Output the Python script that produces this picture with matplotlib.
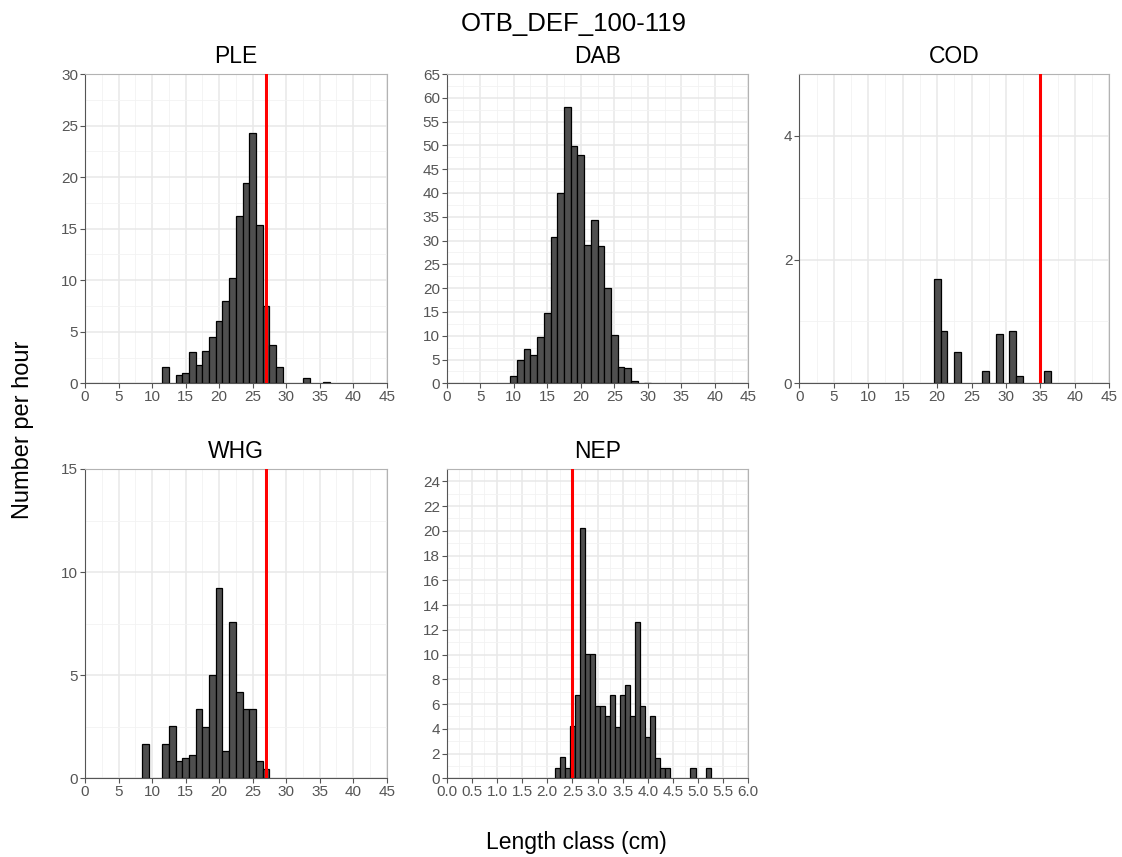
import matplotlib
matplotlib.use('Agg')
import matplotlib.pyplot as plt
from matplotlib.ticker import MultipleLocator, FormatStrFormatter

plt.rcParams['font.family'] = ['Liberation Sans', 'DejaVu Sans']

# length classes (cm) and numbers per hour
ple_len = [12, 14, 15, 16, 17, 18, 19, 20, 21, 22, 23, 24, 25, 26, 27, 28, 29, 33, 36]
ple_n = [1.6, 0.8, 1.0, 3.0, 1.8, 3.1, 4.5, 6.0, 8.0, 10.2, 16.2, 19.4, 24.3, 15.4, 7.5, 3.7, 1.6, 0.5, 0.1]

dab_len = [10, 11, 12, 13, 14, 15, 16, 17, 18, 19, 20, 21, 22, 23, 24, 25, 26, 27, 28, 30]
dab_n = [1.5, 5.0, 7.2, 6.0, 9.8, 14.7, 30.7, 40.0, 58.1, 49.9, 48.0, 29.1, 34.4, 28.8, 20.1, 10.2, 3.4, 3.2, 0.5, 0.1]

cod_len = [20, 21, 23, 27, 29, 31, 32, 36]
cod_n = [1.68, 0.84, 0.51, 0.2, 0.8, 0.84, 0.12, 0.2]

whg_len = [9, 12, 13, 14, 15, 16, 17, 18, 19, 20, 21, 22, 23, 24, 25, 26, 27]
whg_n = [1.65, 1.65, 2.55, 0.84, 0.97, 1.13, 3.35, 2.5, 5.0, 9.25, 1.3, 7.57, 4.17, 3.35, 3.35, 0.84, 0.45]

nep_len = [2.2, 2.3, 2.4, 2.5, 2.6, 2.7, 2.8, 2.9, 3.0, 3.1, 3.2, 3.3, 3.4, 3.5, 3.6, 3.7,
           3.8, 3.9, 4.0, 4.1, 4.2, 4.3, 4.4, 4.9, 5.2]
nep_n = [0.81, 1.7, 0.81, 4.23, 6.74, 20.2, 10.06, 10.06, 5.88, 5.88, 5.04, 6.72, 4.18, 6.72,
         7.55, 5.07, 12.6, 5.88, 3.37, 5.04, 1.67, 0.81, 0.81, 0.81, 0.81]

# minimum conservation reference sizes (red lines); None = no line
mcrs = {'PLE': 27, 'DAB': None, 'COD': 35, 'WHG': 27, 'NEP': 2.5}

W, H = 1122, 857


def box(left, right, top, bottom):
    return [left / W, (H - bottom) / H, (right - left) / W, (bottom - top) / H]


def panel(rect, name, lengths, values, width, xmax, xmaj, ymax, ymaj, fmt=None):
    ax = fig.add_axes(rect)
    ax.set_axisbelow(True)
    ax.bar(lengths, values, width=width, color='#4f4f4f', edgecolor='black', linewidth=0.9, zorder=2)
    if mcrs[name] is not None:
        ax.axvline(mcrs[name], color='#ff0000', linewidth=2.2, zorder=3)
    ax.set_xlim(0, xmax)
    ax.set_ylim(0, ymax)
    ax.xaxis.set_major_locator(MultipleLocator(xmaj))
    ax.xaxis.set_minor_locator(MultipleLocator(xmaj / 2))
    ax.yaxis.set_major_locator(MultipleLocator(ymaj))
    ax.yaxis.set_minor_locator(MultipleLocator(ymaj / 2))
    if fmt:
        ax.xaxis.set_major_formatter(FormatStrFormatter(fmt))
    ax.grid(which='major', color='#e8e8e8', linewidth=1.1, zorder=0)
    ax.grid(which='minor', color='#f2f2f2', linewidth=0.6, zorder=0)
    ax.tick_params(which='major', length=3.5, width=0.8, color='#555555', labelcolor='#555555',
                   labelsize=11, pad=1.5)
    ax.tick_params(which='minor', length=0)
    for side in ['top', 'right']:
        ax.spines[side].set_color('#b3b3b3')
        ax.spines[side].set_linewidth(0.8)
    for side in ['left', 'bottom']:
        ax.spines[side].set_color('#555555')
        ax.spines[side].set_linewidth(0.8)
    ax.set_title(name, fontsize=16.5, pad=8)
    return ax


fig = plt.figure(figsize=(W / 100, H / 100), dpi=100)

panel(box(85, 386.7, 74, 383.3), 'PLE', ple_len, ple_n, 1, 45, 5, 30, 5)
panel(box(446.7, 748.3, 74, 383.3), 'DAB', dab_len, dab_n, 1, 45, 5, 65, 5)
panel(box(799.3, 1109.3, 74, 383.3), 'COD', cod_len, cod_n, 1, 45, 5, 5, 2)
panel(box(85, 386.7, 469, 778.3), 'WHG', whg_len, whg_n, 1, 45, 5, 15, 5)
panel(box(446.7, 748.3, 469, 778.3), 'NEP', nep_len, nep_n, 0.1, 6, 0.5, 25, 2, fmt='%.1f')

fig.text(574 / W, 1 - 24 / H, 'OTB_DEF_100-119', ha='center', va='center', fontsize=18.5)
fig.text(23 / W, 1 - 430 / H, 'Number per hour', ha='center', va='center', rotation=90, fontsize=17)
fig.text(576 / W, 1 - 842 / H, 'Length class (cm)', ha='center', va='center', fontsize=16.5)

fig.savefig('out.png', dpi=100)
